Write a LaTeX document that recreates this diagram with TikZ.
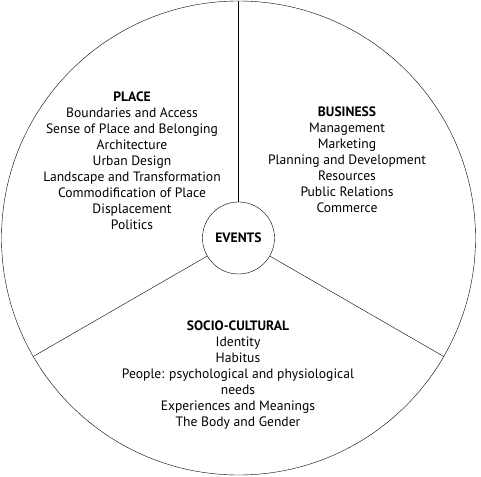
\documentclass[tikz,border=0pt]{standalone}
\usepackage{fontspec}
\setmainfont{PT Sans}
\usepackage{tikz}
\usetikzlibrary{positioning}

\begin{document}
\begin{tikzpicture}[x=1pt,y=1pt,
  rim/.style={draw,circle,inner sep=0pt,minimum size=474pt},
  hub/.style={draw,circle,inner sep=0pt,minimum size=72pt,font=\fontsize{13.6}{16}\selectfont\bfseries},
  sector/.style={align=center,font=\fontsize{13.6}{16}\selectfont},
  spoke/.style={thin}
]
  \useasboundingbox (-238.5,-238) rectangle (242.5,238);
  \node[rim] (rim) at (0,0) {};
  \node[hub] (events) at (0,0) {EVENTS};
  \draw[spoke] (events) -- (rim.90);
  \draw[spoke] (events) -- (rim.210);
  \draw[spoke] (events) -- (rim.330);
  \node[sector] (place) at (-106.5,77.5)
    {\textbf{PLACE}\\Boundaries and Access\\Sense of Place and Belonging\\
     Architecture\\Urban Design\\Landscape and Transformation\\
     Commodification of Place\\Displacement\\Politics};
  \node[sector] (business) at (108.5,78)
    {\textbf{BUSINESS}\\Management\\Marketing\\Planning and Development\\
     Resources\\Public Relations\\Commerce};
  \node[sector] (socio) at (-0.5,-137)
    {\textbf{SOCIO-CULTURAL}\\Identity\\Habitus\\
     People: psychological and physiological\\needs\\
     Experiences and Meanings\\The Body and Gender};
\end{tikzpicture}
\end{document}
